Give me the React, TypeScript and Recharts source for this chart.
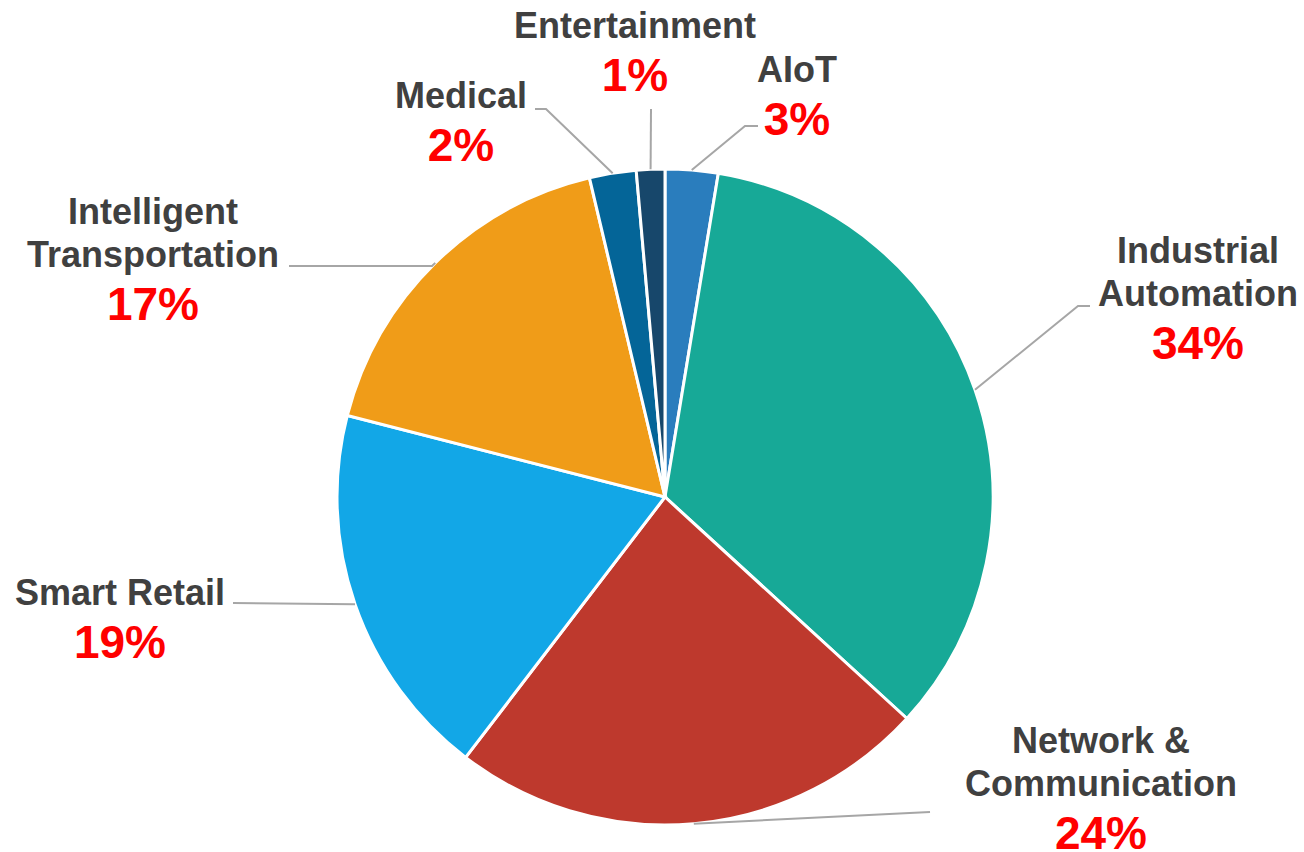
import React from 'react';
import { PieChart, Pie, Cell } from 'recharts';

// categories, clockwise from 12 o'clock
const categories = [
    'AIoT',
    'Industrial\nAutomation',
    'Network &\nCommunication',
    'Smart Retail',
    'Intelligent\nTransportation',
    'Medical',
    'Entertainment',
];
const shares = [2.6, 34.2, 23.6, 18.6, 17.3, 2.3, 1.4];
const colors = ['#2A7DBD', '#17A997', '#BE392D', '#12A7E7', '#F09C18', '#046598', '#17476B'];

// label layout: text centre x, first baseline y, leader line bend + end
const labelLayout = [
    { x: 797, y: 82, bend: [745, 126], end: [758, 126] },
    { x: 1198, y: 263, bend: [1078, 306], end: [1090, 306] },
    { x: 1101, y: 753, bend: null, end: [930, 812] },
    { x: 120, y: 605, bend: null, end: [233, 603] },
    { x: 153, y: 224, bend: [432, 266], end: [289, 266] },
    { x: 461, y: 108, bend: [546, 109], end: [535, 109] },
    { x: 635, y: 38, bend: null, end: [651, 109] },
];

const data = categories.map((name, i) => ({ name, value: shares[i] }));
const total = shares.reduce((a, b) => a + b, 0);
const RADIAN = Math.PI / 180;
const FONT = '"Liberation Sans", Arial, sans-serif';

const renderLabel = (props: any) => {
    const { cx, cy, midAngle, outerRadius, index, value } = props;
    const lay = labelLayout[index];
    const sx = cx + outerRadius * Math.cos(-midAngle * RADIAN);
    const sy = cy + outerRadius * Math.sin(-midAngle * RADIAN);
    const pts = [[sx, sy]];
    if (lay.bend) pts.push(lay.bend);
    pts.push(lay.end);
    const lines = categories[index].split('\n');
    const pct = Math.round((value / total) * 100) + '%';
    return (
        <g key={`lbl-${index}`}>
            <polyline
                points={pts.map(p => p.join(',')).join(' ')}
                fill="none" stroke="#A6A6A6" strokeWidth={2}
            />
            <text
                x={lay.x} y={lay.y} textAnchor="middle"
                style={{ fontFamily: FONT, fontWeight: 700, fontSize: 36 }} fill="#404040"
            >
                {lines.map((l, k) => (
                    <tspan key={k} x={lay.x} dy={k === 0 ? 0 : 43}>{l}</tspan>
                ))}
            </text>
            <text
                x={lay.x} y={lay.y + (lines.length - 1) * 43 + 53} textAnchor="middle"
                style={{ fontFamily: FONT, fontWeight: 700, fontSize: 46 }} fill="#FF0000"
            >
                {pct}
            </text>
        </g>
    );
};

export default function App() {
    return (
        <div style={{ position: 'absolute', left: 0, top: 0, width: 1304, height: 852, background: '#fff' }}>
            <PieChart width={1304} height={852} margin={{ top: 0, right: 0, bottom: 0, left: 0 }}>
                <Pie
                    data={data}
                    dataKey="value"
                    nameKey="name"
                    cx={665}
                    cy={497}
                    outerRadius={328}
                    startAngle={90}
                    endAngle={-270}
                    stroke="#FFFFFF"
                    strokeWidth={3}
                    label={renderLabel}
                    labelLine={false}
                    isAnimationActive={false}
                >
                    {data.map((d, i) => (
                        <Cell key={d.name} fill={colors[i]} />
                    ))}
                </Pie>
            </PieChart>
        </div>
    );
}
